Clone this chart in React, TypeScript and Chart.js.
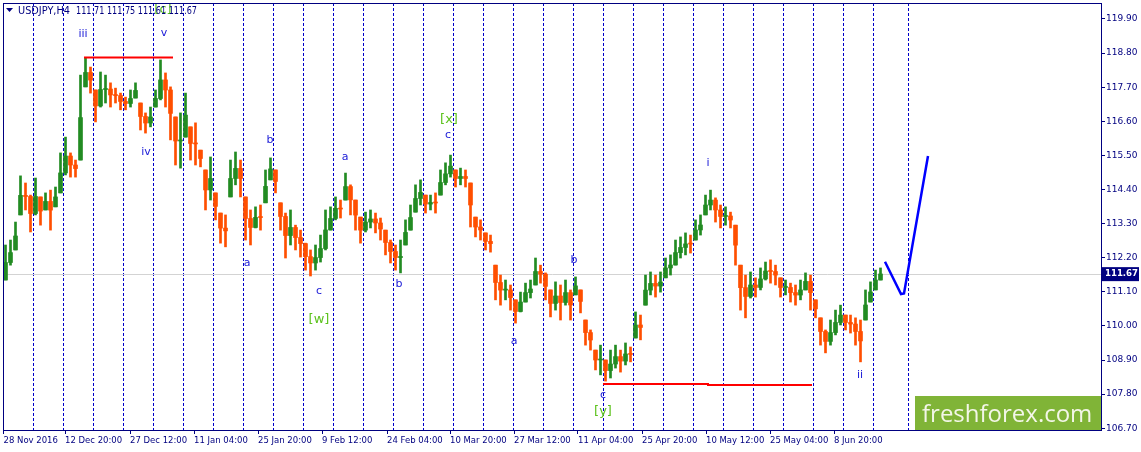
import React, { useEffect, useRef } from "react";
import { Chart, registerables } from "chart.js";
Chart.register(...registerables);

// ---- price samples (one sample = 5 H4 bars) ----
const highs = [
  112.61, 112.77, 113.35, 114.84, 114.61, 114.22, 114.77, 114.16, 114.29, 114.38,
  114.48, 115.58, 116.09, 115.58, 115.35, 118.09, 118.64, 118.35, 117.61, 118.19,
  118.09, 117.84, 117.67, 117.51, 117.38, 117.61, 117.84, 117.19, 116.87, 117.06,
  117.61, 118.58, 118.16, 117.71, 116.74, 116.87, 117.51, 116.42, 116.55, 115.67,
  115.03, 115.45, 114.29, 113.64, 113.58, 115.35, 115.61, 115.35, 114.16, 113.74,
  113.84, 113.9, 115.03, 115.42, 115.03, 113.97, 113.64, 113.74, 113.25, 113.09,
  112.67, 112.45, 112.61, 112.93, 113.74, 113.84, 114.16, 114.06, 114.93, 114.55,
  114.06, 113.51, 113.67, 113.74, 113.64, 113.48, 113.09, 112.77, 112.61, 112.77,
  113.42, 113.9, 114.55, 114.71, 114.22, 114.22, 114.29, 115.03, 115.26, 115.51,
  115.03, 115.09, 115.03, 114.61, 113.51, 113.42, 113.0, 112.93, 111.96, 111.64,
  111.48, 111.32, 110.84, 111.09, 111.38, 111.48, 112.19, 111.96, 111.71, 111.16,
  111.42, 111.32, 111.48, 111.16, 111.58, 111.16, 110.19, 109.87, 109.22, 109.38,
  108.9, 109.22, 109.38, 109.22, 109.45, 109.32, 110.45, 110.35, 111.64, 111.74,
  111.64, 111.74, 112.19, 112.29, 112.77, 112.87, 113.0, 112.93, 113.42, 113.58,
  114.22, 114.38, 114.13, 113.9, 113.84, 113.67, 113.25, 111.96, 111.64, 111.74,
  111.55, 111.87, 112.06, 112.13, 111.96, 111.55, 111.48, 111.38, 111.32, 111.48,
  111.71, 111.64, 110.84, 110.26, 109.87, 110.19, 110.51, 110.67, 110.35, 110.35,
  110.26, 110.19, 111.16, 111.42, 111.8, 111.87,
];
const lows = [
  111.48, 111.96, 112.45, 113.58, 113.74, 113.03, 113.58, 113.25, 113.74, 113.09,
  113.84, 114.29, 114.87, 114.8, 114.8, 115.35, 117.71, 117.51, 116.58, 117.06,
  117.19, 117.06, 117.19, 116.97, 116.97, 117.06, 117.35, 116.32, 116.22, 116.42,
  117.06, 117.29, 117.06, 116.0, 115.19, 115.09, 116.09, 115.35, 115.19, 115.13,
  113.74, 114.06, 113.42, 112.67, 112.55, 114.16, 114.55, 114.16, 112.77, 112.61,
  113.16, 113.09, 113.97, 114.71, 114.29, 113.09, 112.19, 112.61, 112.45, 112.22,
  111.8, 111.61, 111.8, 112.06, 112.45, 113.09, 113.42, 113.48, 114.06, 113.58,
  113.09, 112.67, 113.03, 113.16, 113.0, 112.77, 112.29, 112.03, 111.8, 111.71,
  112.61, 113.09, 113.67, 113.9, 113.64, 113.74, 113.64, 114.22, 114.55, 114.8,
  114.48, 114.55, 114.48, 113.19, 112.87, 112.77, 112.45, 112.38, 110.84, 110.67,
  110.84, 110.51, 110.09, 110.45, 110.77, 110.9, 111.32, 111.38, 110.84, 110.29,
  110.51, 110.19, 110.67, 110.19, 111.0, 110.42, 109.38, 109.22, 108.58, 108.42,
  108.22, 108.32, 108.64, 108.51, 108.74, 108.84, 109.61, 109.55, 110.67, 111.0,
  110.93, 111.09, 111.55, 111.64, 111.96, 112.19, 112.29, 112.35, 112.77, 112.93,
  113.58, 113.74, 113.35, 113.16, 113.25, 113.16, 111.96, 110.51, 110.26, 110.9,
  110.93, 111.16, 111.48, 111.38, 111.32, 110.93, 111.0, 110.77, 110.67, 110.84,
  111.16, 110.51, 110.26, 109.38, 109.13, 109.38, 109.71, 110.03, 109.87, 109.77,
  109.38, 108.84, 110.19, 110.77, 111.16, 111.48,
];
const barStep = 5;
const lastPrice = 111.67;
const titleSymbol = "USDJPY,H4";
const titleOHLC = "111.71 111.75 111.61 111.67";

// axes
const yTicks = [106.7, 107.8, 108.9, 110.0, 111.1, 112.2, 113.3, 114.4, 115.5, 116.6, 117.7, 118.8, 119.9];
const xTickIdx = [0, 61.5, 126.5, 190.5, 254.5, 318.5, 383.5, 446.5, 510.5, 574.5, 638.5, 702.5, 766.5, 830.5];
const xTickLabels = [
  "28 Nov 2016", "12 Dec 20:00", "27 Dec 12:00", "11 Jan 04:00", "25 Jan 20:00", "9 Feb 12:00",
  "24 Feb 04:00", "10 Mar 20:00", "27 Mar 12:00", "11 Apr 04:00", "25 Apr 20:00", "10 May 12:00",
  "25 May 04:00", "8 Jun 20:00",
];
const weekStarts = [
  29, 59, 89, 119, 149, 179, 209, 239, 269, 299, 329, 359, 389, 419, 449, 479, 509, 539, 569,
  599, 629, 659, 689, 719, 749, 779, 809, 839, 869, 904,
];

// wave labels
const waveText = ["[c]", "iii", "v", "iv", "b", "a", "a", "c", "[w]", "b", "[x]", "c", "a", "b", "c", "[y]", "i", "ii"];
const waveIdx = [159.5, 79.5, 160.5, 142.5, 266.5, 243.5, 341.5, 315.5, 315.5, 395.5, 445.5, 444.5, 510.5, 570.5, 599.5, 599.5, 704.5, 856.5];
const wavePrice = [120.19, 119.42, 119.45, 115.61, 116.0, 112.03, 115.45, 111.13, 110.19, 111.35, 116.64, 116.16, 109.51, 112.13, 107.77, 107.22, 115.25, 108.42];

// drawn levels and forecast
const resistanceIdx = [80.5, 169.5];
const resistancePrice = [118.66, 118.66];
const supportIdx = [599.5, 704.5, 704.5, 808.5];
const supportPrice = [108.13, 108.13, 108.09, 108.09];
const forecastIdx = [881.5, 897.5, 900.5, 924.5];
const forecastPrice = [112.07, 111.03, 111.05, 115.48];

const NAVY = "#000080";
const GREEN = "#228B22";
const ORANGE = "#FF4F00";

export default function App() {
  const ref = useRef<HTMLCanvasElement | null>(null);

  useEffect(() => {
    if (!ref.current) return;
    const mids = highs.map((h, k) => (h + lows[k]) / 2);
    const opens = mids.map((m, k) => {
      const o = k === 0 ? lows[0] : mids[k - 1];
      return Math.min(highs[k], Math.max(lows[k], o));
    });
    const colors = mids.map((m, k) => (m >= opens[k] ? GREEN : ORANGE));

    const overlay = {
      id: "overlay",
      beforeDatasetsDraw(chart: any) {
        const { ctx, chartArea: a, scales } = chart;
        const x = scales.x, y = scales.y;
        ctx.save();
        ctx.strokeStyle = "#0000c8";
        ctx.lineWidth = 1;
        ctx.setLineDash([3, 2]);
        for (const s of weekStarts) {
          const px = Math.round(x.getPixelForValue(s)) + 0.5;
          ctx.beginPath();
          ctx.moveTo(px, a.top);
          ctx.lineTo(px, a.bottom);
          ctx.stroke();
        }
        ctx.setLineDash([]);
        const py = Math.round(y.getPixelForValue(lastPrice)) + 0.5;
        ctx.strokeStyle = "#d3d3d3";
        ctx.beginPath();
        ctx.moveTo(a.left, py);
        ctx.lineTo(a.right, py);
        ctx.stroke();
        ctx.restore();
      },
      afterDraw(chart: any) {
        const { ctx, chartArea: a, scales } = chart;
        const x = scales.x, y = scales.y;
        ctx.save();
        // wave labels
        ctx.textAlign = "center";
        ctx.textBaseline = "middle";
        waveText.forEach((t, i) => {
          const green = t.startsWith("[");
          ctx.font = green ? '13px "DejaVu Sans"' : '11px "DejaVu Sans"';
          ctx.fillStyle = green ? "#5cc21c" : "#2020d8";
          ctx.fillText(t, x.getPixelForValue(waveIdx[i]), y.getPixelForValue(wavePrice[i]));
        });
        // logo
        ctx.fillStyle = "#80b437";
        ctx.fillRect(915, 396, a.right - 915, a.bottom - 396);
        ctx.fillStyle = "#f3f6e8";
        ctx.font = '24px "Open Sans"';
        ctx.textAlign = "left";
        ctx.textBaseline = "alphabetic";
        ctx.fillText("freshforex.com", 922, 422);
        // title
        ctx.fillStyle = NAVY;
        ctx.beginPath();
        ctx.moveTo(6, 8);
        ctx.lineTo(13, 8);
        ctx.lineTo(9.5, 12);
        ctx.closePath();
        ctx.fill();
        ctx.font = '10px "DejaVu Sans"';
        ctx.textBaseline = "middle";
        ctx.fillText(titleSymbol, 18, 11, 52);
        ctx.fillText(titleOHLC, 76, 11, 121);
        // frame
        ctx.strokeStyle = NAVY;
        ctx.lineWidth = 1;
        ctx.strokeRect(a.left + 0.5, a.top + 0.5, a.right - a.left - 1, a.bottom - a.top - 1);
        // price box
        const py = y.getPixelForValue(lastPrice);
        ctx.fillStyle = NAVY;
        ctx.fillRect(a.right, py - 7, 37, 14);
        ctx.fillStyle = "#ffffff";
        ctx.font = 'bold 9px "DejaVu Sans"';
        ctx.fillText(lastPrice.toFixed(2), a.right + 3, py, 33);
        ctx.restore();
      },
    };

    const chart = new Chart(ref.current, {
      type: "bar",
      data: {
        datasets: [
          {
            type: "line",
            data: forecastIdx.map((v, i) => ({ x: v, y: forecastPrice[i] })),
            borderColor: "#0000ff",
            borderWidth: 2.5,
            pointRadius: 0,
            tension: 0,
            order: 0,
          } as any,
          {
            type: "line",
            data: resistanceIdx.map((v, i) => ({ x: v, y: resistancePrice[i] })),
            borderColor: "#ff0000",
            borderWidth: 2,
            pointRadius: 0,
            order: 0,
          } as any,
          {
            type: "line",
            data: supportIdx.map((v, i) => ({ x: v, y: supportPrice[i] })),
            borderColor: "#ff0000",
            borderWidth: 2,
            pointRadius: 0,
            order: 0,
          } as any,
          {
            type: "bar",
            data: highs.map((h, k) => ({ x: k * barStep + 2, y: [opens[k], mids[k]] })) as any,
            backgroundColor: colors,
            borderWidth: 0,
            barThickness: 4,
            minBarLength: 1,
            grouped: false,
            order: 1,
          } as any,
          {
            type: "bar",
            data: highs.map((h, k) => ({ x: k * barStep + 2, y: [lows[k], h] })) as any,
            backgroundColor: colors,
            borderWidth: 0,
            barThickness: 2,
            grouped: false,
            order: 2,
          } as any,
        ],
      },
      options: {
        animation: false,
        responsive: false,
        maintainAspectRatio: false,
        layout: { padding: { left: 3, top: 3, right: 0, bottom: 0 } },
        plugins: { legend: { display: false }, tooltip: { enabled: false } },
        scales: {
          x: {
            type: "linear",
            min: -0.5,
            max: 1098.5,
            offset: false,
            grid: { display: true, drawOnChartArea: false, drawTicks: true, tickLength: 3, color: NAVY, offset: false },
            border: { display: false },
            ticks: {
              autoSkip: false,
              maxRotation: 0,
              align: "start",
              padding: 2,
              color: NAVY,
              font: { family: "DejaVu Sans", size: 8.5 },
              callback: (_v: any, i: number) => xTickLabels[i],
            },
            afterBuildTicks: (s: any) => {
              s.ticks = xTickIdx.map((v) => ({ value: v }));
            },
            afterFit: (s: any) => {
              s.height = 21;
              s.paddingLeft = 0;
              s.paddingRight = 0;
            },
          } as any,
          y: {
            type: "linear",
            position: "right",
            min: 106.61,
            max: 120.416,
            grid: { display: true, drawOnChartArea: false, drawTicks: true, tickLength: 3, color: NAVY },
            border: { display: false },
            ticks: {
              autoSkip: false,
              padding: 1,
              color: NAVY,
              font: { family: "DejaVu Sans", size: 9 },
              callback: (v: any) => Number(v).toFixed(2),
            },
            afterBuildTicks: (s: any) => {
              s.ticks = yTicks.map((v) => ({ value: v }));
            },
            afterFit: (s: any) => {
              s.width = 39;
              s.paddingTop = 0;
              s.paddingBottom = 0;
            },
          } as any,
        },
      },
      plugins: [overlay],
    });
    return () => chart.destroy();
  }, []);

  return (
    <div style={{ position: "fixed", left: 0, top: 0, width: 1141, height: 452, background: "#ffffff" }}>
      <canvas ref={ref} width={1141} height={452} style={{ width: 1141, height: 452, display: "block" }} />
    </div>
  );
}
